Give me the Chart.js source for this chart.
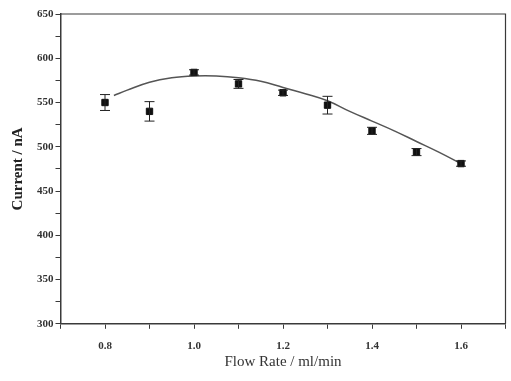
<!DOCTYPE html>
<html>
<head>
<meta charset="utf-8">
<script src="https://cdn.jsdelivr.net/npm/chart.js@4.4.0/dist/chart.umd.min.js"></script>
<style>
    html, body { margin: 0; padding: 0; background: #fff; }
    #wrap { width: 511px; height: 381px; }
</style>
</head>
<body>
<div id="wrap"><canvas id="flowChart"></canvas></div>
<script>
// Measured points (flow rate vs current)
const flowRates = [0.8, 0.9, 1.0, 1.1, 1.2, 1.3, 1.4, 1.5, 1.6];
const currents = [550, 540, 584, 571, 561, 547, 518, 494, 481];
const errors = [9, 11, 3, 5, 3, 10, 4, 4, 3];

// Fitted curve
const fitX = [0.82, 0.85, 0.9, 0.95, 1.0, 1.05, 1.1, 1.15, 1.2, 1.25, 1.3, 1.35, 1.4, 1.45, 1.5, 1.55, 1.6];
const fitY = [558, 564, 573, 578, 580, 580, 578, 574, 567, 560, 552, 540, 529, 518, 506, 494, 481];

const AXIS_COLOR = '#3a3a3a';

// --- Error bars + frame ---
const errorBarPlugin = {
    id: 'errorBars',
    afterDatasetsDraw(chart) {
        const { ctx, scales: { x, y } } = chart;
        ctx.save();
        ctx.strokeStyle = '#222';
        ctx.lineWidth = 1;
        flowRates.forEach((fr, i) => {
            const px = x.getPixelForValue(fr);
            const top = y.getPixelForValue(currents[i] + errors[i]);
            const bot = y.getPixelForValue(currents[i] - errors[i]);
            ctx.beginPath();
            ctx.moveTo(px, top); ctx.lineTo(px, bot);
            ctx.moveTo(px - 5, top); ctx.lineTo(px + 5, top);
            ctx.moveTo(px - 5, bot); ctx.lineTo(px + 5, bot);
            ctx.stroke();
        });
        ctx.restore();
    },
    beforeDatasetsDraw(chart) {
        const { ctx, chartArea: a } = chart;
        ctx.save();
        ctx.strokeStyle = AXIS_COLOR;
        ctx.lineWidth = 1.2;
        ctx.beginPath();
        ctx.moveTo(a.left, a.top); ctx.lineTo(a.right, a.top);
        ctx.lineTo(a.right, a.bottom);
        ctx.stroke();
        ctx.restore();
    }
};

const ctx = document.getElementById('flowChart').getContext('2d');
new Chart(ctx, {
    type: 'scatter',
    data: {
        datasets: [
            {
                label: 'data',
                data: flowRates.map((v, i) => ({ x: v, y: currents[i] })),
                pointStyle: 'rect',
                pointRadius: 4.5,
                backgroundColor: '#111',
                borderColor: '#111',
                showLine: false
            },
            {
                label: 'fit',
                data: fitX.map((v, i) => ({ x: v, y: fitY[i] })),
                showLine: true,
                pointRadius: 0,
                borderColor: '#555',
                borderWidth: 1.5,
                tension: 0.4,
                fill: false
            }
        ]
    },
    options: {
        responsive: true,
        maintainAspectRatio: false,
        animation: false,
        layout: { padding: { top: 14, right: 4, left: 9, bottom: 10 } },
        plugins: {
            legend: { display: false },
            tooltip: { enabled: false }
        },
        scales: {
            x: {
                type: 'linear',
                min: 0.7,
                max: 1.7,
                // tick padding would otherwise eat into the right margin
                afterFit: scale => { scale.paddingRight = 0; },
                ticks: {
                    stepSize: 0.1,
                    autoSkip: false,
                    maxRotation: 0,
                    padding: 11,
                    color: '#333',
                    font: { family: 'Liberation Serif', size: 11, weight: 'bold' },
                    callback: v => (Math.round(v * 10) % 2 === 0 && v > 0.75 && v < 1.65) ? v.toFixed(1) : ''
                },
                grid: { drawOnChartArea: false, tickLength: 5, color: AXIS_COLOR },
                border: { color: AXIS_COLOR, width: 1.5 },
                title: {
                    display: true,
                    text: 'Flow Rate / ml/min',
                    color: '#333',
                    font: { family: 'Liberation Serif', size: 15 },
                    padding: { top: -11, bottom: 0 }
                }
            },
            y: {
                min: 300,
                max: 650,
                ticks: {
                    stepSize: 25,
                    autoSkip: false,
                    padding: 2,
                    color: '#333',
                    font: { family: 'Liberation Serif', size: 11, weight: 'bold' },
                    callback: v => v % 50 === 0 ? v : ''
                },
                grid: { drawOnChartArea: false, tickLength: 5, color: AXIS_COLOR },
                border: { color: AXIS_COLOR, width: 1.5 },
                title: {
                    display: true,
                    text: 'Current / nA',
                    color: '#222',
                    font: { family: 'Liberation Serif', size: 15, weight: 'bold' },
                    padding: { top: 0, bottom: 8 }
                }
            }
        }
    },
    plugins: [errorBarPlugin]
});
</script>
</body>
</html>
